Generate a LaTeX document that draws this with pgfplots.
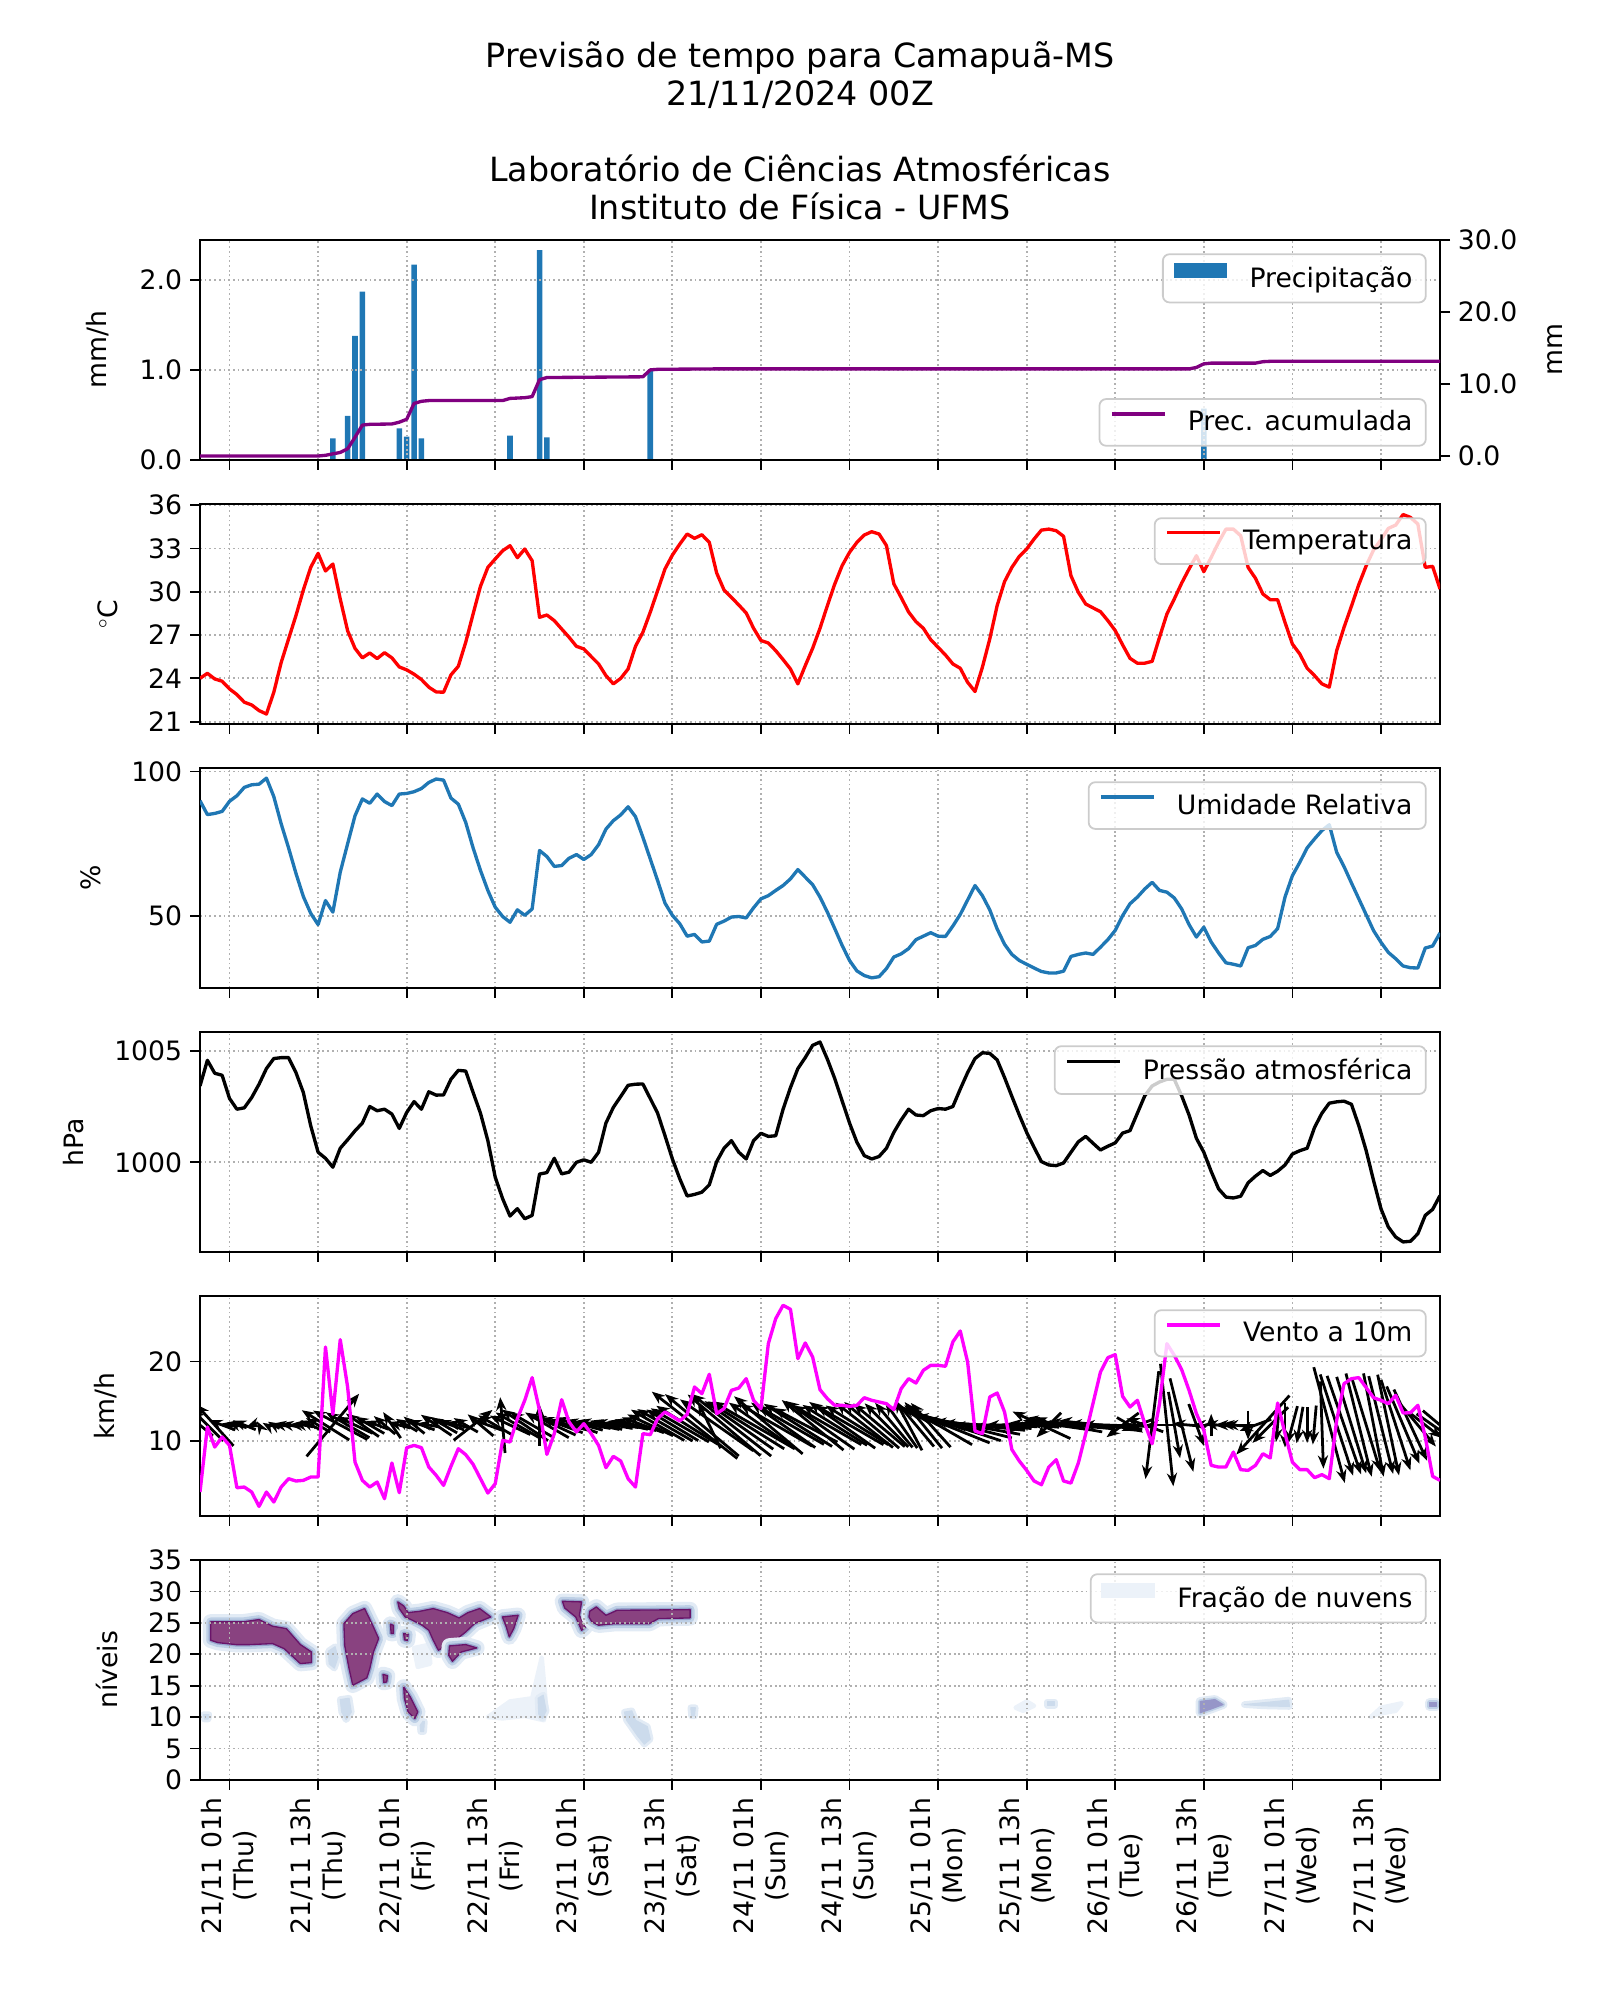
\documentclass[border=0pt]{standalone}
\usepackage{fontspec}
\setmainfont{DejaVu Sans}
\usepackage{pgfplots}
\usepackage{pgfplotstable}
\pgfplotsset{compat=1.18}
\usetikzlibrary{arrows.meta}

\definecolor{c0}{HTML}{1F77B4}
\definecolor{mag}{RGB}{255,0,255}
\definecolor{pred}{RGB}{255,0,0}
\definecolor{gridgray}{HTML}{B0B0B0}
\definecolor{legedge}{HTML}{CCCCCC}
\definecolor{accpurple}{HTML}{800080}
\definecolor{cloudpurple}{RGB}{137,66,128}
\definecolor{cloudedge}{RGB}{105,20,105}
\definecolor{halo1}{RGB}{226,235,245}
\definecolor{halo2}{RGB}{190,208,230}
\definecolor{halo3}{RGB}{150,165,205}
\definecolor{cloudmid}{RGB}{150,150,200}
\definecolor{cloudlight}{RGB}{236,242,249}

\pgfplotsset{
  /pgf/number format/assume math mode=true,
  /pgf/number format/1000 sep={},
  panel/.style={
    scale only axis, width=558pt, height=99pt,
    anchor=north west,
    xmin=0, xmax=168,
    xtick={4,16,28,40,52,64,76,88,100,112,124,136,148,160},
    xticklabels={},
    scaled ticks=false,
    tick align=outside, tick pos=left,
    major tick length=4.5pt,
    every tick/.style={black, line width=0.8pt},
    axis line style={line width=0.8pt, black},
    grid=major,
    major grid style={line width=0.8pt, gridgray, dash pattern=on 0.8pt off 1.32pt},
    tick label style={font=\fontsize{12}{14.4}\selectfont},
    label style={font=\fontsize{12}{14.4}\selectfont},
    ylabel shift=7pt,
    legend cell align=left,
    legend style={
      at={(rel axis cs:1,1)}, anchor=north east, xshift=-6pt, yshift=-6pt,
      draw=legedge, line width=0.8pt, rounded corners=3pt,
      fill=white, fill opacity=0.8, text opacity=1, draw opacity=1,
      inner xsep=4.8pt, inner ysep=4pt,
      nodes={inner sep=1.2pt},
      font=\fontsize{12}{14.4}\selectfont,
    },
  },
  series/.style={line width=1.5pt, line join=round},
}

\newcommand{\linelegend}[1]{\draw[#1, line width=1.5pt, sharp corners, solid] (0pt,3.8pt) -- (24pt,3.8pt); \path[draw=none, fill=none] (0pt,0pt) (33pt,0pt);}
\newcommand{\patchlegend}[1]{\fill[#1, fill opacity=1, sharp corners, draw=none] (0pt,0.5pt) rectangle (24pt,7.1pt); \path[draw=none, fill=none] (0pt,0pt) (33pt,0pt);}

\newcommand{\cloudblob}[1]{%
  \addplot[forget plot, draw=halo1, fill=halo1, line width=7pt, line join=round] table {#1} -- cycle;
  \addplot[forget plot, draw=halo2, fill=halo2, line width=4pt, line join=round] table {#1} -- cycle;
  \addplot[forget plot, draw=halo3, fill=halo3, line width=1.8pt, line join=round] table {#1} -- cycle;
  \addplot[forget plot, draw=cloudedge, fill=cloudpurple, line width=0.6pt, line join=round] table {#1} -- cycle;
}
\newcommand{\cloudfaint}[1]{%
  \addplot[forget plot, draw=halo1, fill=halo1, line width=3pt, line join=round] table {#1} -- cycle;
  \addplot[forget plot, draw=halo2!60!halo1, fill=halo2!60!halo1, line width=0.5pt, line join=round] table {#1} -- cycle;
}
\newcommand{\cloudveryfaint}[1]{%
  \addplot[forget plot, draw=cloudlight, fill=cloudlight, line width=2pt, line join=round] table {#1} -- cycle;
}
\newcommand{\cloudmidblob}[1]{%
  \addplot[forget plot, draw=halo1, fill=halo1, line width=4pt, line join=round] table {#1} -- cycle;
  \addplot[forget plot, draw=halo2, fill=halo2, line width=2pt, line join=round] table {#1} -- cycle;
  \addplot[forget plot, draw=cloudmid, fill=cloudmid, line width=0.5pt, line join=round] table {#1} -- cycle;
}

% ---------------- data ----------------
\pgfplotstableread{
h T
0 24.0
1 24.35
2 23.96
3 23.8
4 23.27
5 22.88
6 22.35
7 22.16
8 21.77
9 21.53
10 23.04
11 25.1
12 26.73
13 28.35
14 30.12
15 31.69
16 32.66
17 31.44
18 31.92
19 29.5
20 27.3
21 26.08
22 25.42
23 25.76
24 25.37
25 25.78
26 25.42
27 24.79
28 24.59
29 24.29
30 23.92
31 23.39
32 23.06
33 23.04
34 24.24
35 24.84
36 26.5
37 28.46
38 30.38
39 31.69
40 32.27
41 32.84
42 33.19
43 32.36
44 32.96
45 32.15
46 28.23
47 28.39
48 28.0
49 27.42
50 26.85
51 26.22
52 26.04
53 25.51
54 25.0
55 24.19
56 23.62
57 24.0
58 24.65
59 26.22
60 27.19
61 28.58
62 30.08
63 31.58
64 32.54
65 33.3
66 34.0
67 33.7
68 33.95
69 33.42
70 31.3
71 30.12
72 29.61
73 29.08
74 28.53
75 27.47
76 26.62
77 26.45
78 25.92
79 25.3
80 24.65
81 23.62
82 24.88
83 26.08
84 27.47
85 29.04
86 30.54
87 31.81
88 32.73
89 33.42
90 33.93
91 34.16
92 34.0
93 33.2
94 30.55
95 29.6
96 28.6
97 27.93
98 27.47
99 26.68
100 26.15
101 25.62
102 25.0
103 24.7
104 23.73
105 23.09
106 24.77
107 26.73
108 29.04
109 30.7
110 31.69
111 32.45
112 32.96
113 33.65
114 34.27
115 34.34
116 34.23
117 33.84
118 31.11
119 29.96
120 29.15
121 28.88
122 28.62
123 28.0
124 27.31
125 26.32
126 25.39
127 25.05
128 25.05
129 25.18
130 26.85
131 28.46
132 29.5
133 30.6
134 31.58
135 32.5
136 31.39
137 32.38
138 33.42
139 34.34
140 34.34
141 33.88
142 31.69
143 30.93
144 29.85
145 29.45
146 29.45
147 27.88
148 26.38
149 25.69
150 24.7
151 24.19
152 23.62
153 23.39
154 25.92
155 27.54
156 29.0
157 30.5
158 31.8
159 32.9
160 33.6
161 34.39
162 34.62
163 35.35
164 35.15
165 34.69
166 31.69
167 31.76
168 30.19
}\tempdata

\pgfplotstableread{
h RH
0 89.9
1 85.1
2 85.5
3 86.2
4 89.7
5 91.6
6 94.5
7 95.4
8 95.6
9 97.7
10 91.3
11 81.9
12 73.6
13 64.8
14 56.8
15 51.0
16 47.1
17 55.4
18 51.4
19 65.2
20 75.0
21 84.7
22 90.5
23 89.0
24 92.2
25 89.6
26 88.2
27 92.2
28 92.4
29 93.0
30 94.1
31 96.2
32 97.4
33 97.0
34 90.8
35 88.7
36 82.4
37 73.6
38 65.8
39 58.9
40 53.1
41 49.9
42 47.9
43 52.2
44 50.3
45 52.5
46 72.7
47 70.6
48 67.2
49 67.5
50 70.0
51 71.3
52 69.6
53 71.3
54 74.7
55 80.1
56 83.0
57 85.0
58 87.8
59 84.4
60 77.3
61 69.8
62 62.3
63 54.5
64 50.3
65 47.4
66 43.1
67 43.7
68 41.1
69 41.4
70 47.2
71 48.3
72 49.7
73 49.9
74 49.4
75 52.9
76 56.0
77 57.1
78 58.9
79 60.6
80 62.9
81 66.1
82 63.5
83 60.9
84 56.6
85 51.4
86 45.7
87 39.9
88 34.7
89 31.1
90 29.5
91 28.7
92 29.1
93 31.9
94 35.9
95 37.0
96 38.8
97 41.9
98 43.1
99 44.3
100 43.1
101 43.0
102 46.6
103 50.6
104 55.6
105 60.6
106 57.1
107 52.2
108 45.6
109 40.3
110 36.8
111 34.7
112 33.4
113 32.1
114 30.9
115 30.4
116 30.4
117 31.0
118 36.1
119 36.8
120 37.3
121 36.8
122 39.3
123 41.9
124 45.1
125 50.2
126 54.3
127 56.6
128 59.4
129 61.7
130 58.9
131 58.3
132 56.3
133 52.5
134 47.1
135 42.8
136 46.2
137 41.1
138 37.3
139 33.9
140 33.4
141 32.8
142 39.1
143 39.9
144 42.0
145 43.0
146 45.7
147 56.6
148 64.0
149 68.6
150 73.6
151 76.7
152 79.6
153 81.6
154 72.1
155 67.1
156 61.5
157 56.0
158 50.5
159 45.0
160 41.0
161 37.5
162 35.3
163 32.8
164 32.2
165 32.1
166 39.0
167 39.7
168 44.2
}\rhdata

\pgfplotstableread{
h P
0 1003.42
1 1004.57
2 1003.99
3 1003.9
4 1002.86
5 1002.38
6 1002.44
7 1002.9
8 1003.5
9 1004.2
10 1004.65
11 1004.69
12 1004.69
13 1004.02
14 1003.13
15 1001.64
16 1000.45
17 1000.18
18 999.78
19 1000.63
20 1001.01
21 1001.41
22 1001.76
23 1002.5
24 1002.31
25 1002.38
26 1002.16
27 1001.52
28 1002.23
29 1002.72
30 1002.38
31 1003.16
32 1003.01
33 1003.02
34 1003.72
35 1004.12
36 1004.09
37 1003.13
38 1002.2
39 1000.97
40 999.33
41 998.37
42 997.59
43 997.92
44 997.47
45 997.62
46 999.47
47 999.54
48 1000.18
49 999.48
50 999.56
51 1000.0
52 1000.11
53 1000.0
54 1000.45
55 1001.76
56 1002.46
57 1002.95
58 1003.45
59 1003.5
60 1003.51
61 1002.86
62 1002.2
63 1001.19
64 1000.15
65 999.26
66 998.49
67 998.56
68 998.66
69 998.99
70 1000.03
71 1000.63
72 1000.97
73 1000.45
74 1000.15
75 1000.97
76 1001.3
77 1001.16
78 1001.19
79 1002.38
80 1003.35
81 1004.2
82 1004.69
83 1005.24
84 1005.39
85 1004.62
86 1003.75
87 1002.75
88 1001.76
89 1000.9
90 1000.3
91 1000.15
92 1000.26
93 1000.63
94 1001.34
95 1001.9
96 1002.38
97 1002.12
98 1002.09
99 1002.31
100 1002.41
101 1002.38
102 1002.5
103 1003.28
104 1004.02
105 1004.65
106 1004.91
107 1004.88
108 1004.59
109 1003.8
110 1002.95
111 1002.12
112 1001.34
113 1000.67
114 1000.03
115 999.88
116 999.85
117 999.97
118 1000.45
119 1000.92
120 1001.16
121 1000.85
122 1000.55
123 1000.72
124 1000.87
125 1001.31
126 1001.42
127 1002.2
128 1002.98
129 1003.42
130 1003.6
131 1003.72
132 1003.72
133 1002.98
134 1002.12
135 1001.07
136 1000.45
137 999.59
138 998.81
139 998.44
140 998.4
141 998.48
142 999.08
143 999.38
144 999.63
145 999.41
146 999.6
147 999.88
148 1000.37
149 1000.52
150 1000.63
151 1001.56
152 1002.2
153 1002.65
154 1002.71
155 1002.74
156 1002.6
157 1001.64
158 1000.52
159 999.18
160 997.92
161 997.1
162 996.65
163 996.43
164 996.46
165 996.8
166 997.62
167 997.89
168 998.51
}\presdata

\pgfplotstableread{
h V
0 3.56
1 11.75
2 9.23
3 10.5
4 9.44
5 4.1
6 4.19
7 3.56
8 1.75
9 3.56
10 2.3
11 4.19
12 5.24
13 4.95
14 5.03
15 5.45
16 5.45
17 21.84
18 13.35
19 22.77
20 16.8
21 7.34
22 5.03
23 4.19
24 4.82
25 2.72
26 7.22
27 3.48
28 9.15
29 9.44
30 9.15
31 6.71
32 5.66
33 4.4
34 6.8
35 9.02
36 8.27
37 7.05
38 5.24
39 3.43
40 4.61
41 10.07
42 9.86
43 12.81
44 15.12
45 17.98
46 13.86
47 8.31
48 10.92
49 15.2
50 12.39
51 11.13
52 12.18
53 10.92
54 9.44
55 6.63
56 8.06
57 7.47
58 5.24
59 4.19
60 10.92
61 10.79
62 12.81
63 13.65
64 13.1
65 12.51
66 13.35
67 16.8
68 15.96
69 18.4
70 13.44
71 14.07
72 16.38
73 16.67
74 17.85
75 15.12
76 14.07
77 22.26
78 25.42
79 27.1
80 26.59
81 20.37
82 22.35
83 20.58
84 16.46
85 15.33
86 14.49
87 14.49
88 14.36
89 14.49
90 15.45
91 15.12
92 14.91
93 14.7
94 13.94
95 16.59
96 17.85
97 17.3
98 18.9
99 19.53
100 19.53
101 19.41
102 22.48
103 23.86
104 19.95
105 11.25
106 10.92
107 15.54
108 16.04
109 13.65
110 8.9
111 7.47
112 6.29
113 4.95
114 4.48
115 6.71
116 7.64
117 4.95
118 4.69
119 7.22
120 10.92
121 14.78
122 18.69
123 20.5
124 20.88
125 15.62
126 14.28
127 15.12
128 12.18
129 9.65
130 14.7
131 22.26
132 20.79
133 18.99
134 16.38
135 13.44
136 11.34
137 6.92
138 6.71
139 6.71
140 8.6
141 6.38
142 6.29
143 6.92
144 8.39
145 7.85
146 14.78
147 10.92
148 7.34
149 6.38
150 6.38
151 5.37
152 5.75
153 5.24
154 12.6
155 17.22
156 17.85
157 17.98
158 16.72
159 15.45
160 15.12
161 14.7
162 15.75
163 13.52
164 13.56
165 14.49
166 10.5
167 5.54
168 5.03
}\winddata

% wind arrows: h, direction angle on the page (deg), length (px of the reference)
\pgfplotstableread{
h a L
0 140 30
1 135 40
2 132 50
3 160 25
4 170 15
5 165 18
6 158 22
7 200 10
8 120 8
9 150 8
10 150 12
11 170 15
12 170 15
13 175 12
14 170 18
15 155 20
16 150 25
17 148 50
18 50 73
19 152 55
20 150 45
21 155 35
22 145 36
23 150 30
24 160 22
25 140 25
26 124 28
27 165 20
28 150 22
29 141 24
30 160 25
31 170 20
32 146 33
33 150 28
34 160 25
35 165 22
36 150 25
37 38 44
38 140 30
39 160 28
40 150 35
41 95 50
42 155 40
43 150 45
44 146 50
45 150 45
46 90 37
47 150 45
48 155 42
49 160 40
50 165 38
51 160 40
52 165 35
53 170 35
54 168 38
55 165 30
56 170 35
57 172 32
58 168 36
59 165 38
60 160 40
61 155 45
62 150 55
63 150 57
64 149 54
65 150 60
66 148 65
67 142 97
68 140 86
69 116 46
70 145 80
71 140 85
72 142 90
73 145 75
74 148 80
75 150 85
76 145 70
77 140 80
78 150 75
79 145 70
80 150 69
81 148 72
82 152 65
83 141 71
84 145 75
85 150 70
86 148 68
87 145 72
88 150 70
89 148 66
90 142 65
91 140 64
92 140 60
93 135 55
94 130 52
95 125 50
96 118 51
97 130 50
98 129 53
99 132 53
100 150 70
101 158 85
102 162 90
103 166 95
104 170 95
105 174 90
106 176 88
107 178 85
108 182 80
109 185 75
110 183 70
111 180 60
112 20 40
113 175 45
114 155 57
115 225 31
116 172 60
117 170 70
118 175 80
119 178 90
120 180 85
121 176 80
122 174 75
123 178 70
124 180 60
125 217 36
126 -30 27
127 200 30
128 160 35
129 -97 97
130 180 25
131 -84 110
132 -80 60
133 -76 86
134 175 30
135 -70 40
136 180 20
137 90 20
138 175 25
139 180 20
140 175 22
141 180 28
142 -90 26
143 200 30
144 228 71
145 225 45
146 -95 30
147 -90 40
148 -105 35
149 -100 33
150 -90 32
151 -95 35
152 -88 78
153 -75 107
154 -72 95
155 -71 93
156 -73 90
157 -76 95
158 -73 87
159 -79 94
160 -76 90
161 -78 92
162 -72 85
163 -67 75
164 -65 70
165 -50 50
166 -38 37
167 -35 35
168 -40 40
}\windarrows

% cloud fraction contours (hour, model level)
\pgfplotstableread{
h L
1.45 25.15
5.8 25.15
8.0 25.52
9.85 24.46
11.7 24.08
13.6 21.54
15.1 20.37
15.1 18.68
13.6 18.52
11.4 20.9
9.85 21.7
6.7 21.54
4.9 21.54
2.4 21.86
1.45 22.23
}\blobA
\pgfplotstableread{
h L
22.3 27.27
23.4 24.6
24.2 22.5
23.5 20.37
23.0 17.7
22.6 16.24
20.7 15.07
20.2 17.7
19.6 21.43
19.5 24.88
20.7 26.47
}\blobB
\pgfplotstableread{
h L
27.6 14.8
28.5 13.2
29.5 10.83
29.1 9.77
28.2 10.83
27.7 12.95
}\blobC
\pgfplotstableread{
h L
24.8 16.8
25.4 16.6
25.3 15.6
24.9 15.5
}\dotA
\pgfplotstableread{
h L
25.8 24.8
26.2 24.6
26.2 23.3
25.9 23.3
}\dotB
\pgfplotstableread{
h L
27.6 23.3
28.2 23.2
28.1 22.2
27.7 22.3
}\dotC
\pgfplotstableread{
h L
26.8 28.33
27.6 27.69
28.2 26.63
29.8 26.84
31.6 27.27
33.5 26.63
35.1 25.78
36.3 26.63
37.9 27.27
39.4 25.94
37.2 24.88
36.0 23.55
34.4 22.07
32.3 20.64
31.6 22.23
31.0 23.82
30.1 24.62
28.8 25.41
27.8 25.94
27.0 27.27
}\blobD
\pgfplotstableread{
h L
33.8 21.33
36.0 21.54
37.5 21.01
35.4 20.37
34.2 18.89
33.7 19.84
}\blobDD
\pgfplotstableread{
h L
40.97 25.94
43.1 26.2
42.5 24.08
41.9 22.76
41.5 24.35
}\blobG
\pgfplotstableread{
h L
49.1 28.43
51.7 28.33
51.4 26.2
52.2 24.35
51.7 23.82
50.9 25.94
49.4 27.37
}\blobE
\pgfplotstableread{
h L
52.8 26.84
53.7 27.53
55.0 26.2
56.5 27.0
66.4 27.1
66.4 25.78
62.1 25.68
60.9 24.88
56.2 24.88
54.0 24.62
53.1 25.15
52.7 25.94
}\blobF
\pgfplotstableread{
h L
17.4 20.5
18.3 21.2
18.7 19.5
18.2 17.8
17.5 18.5
}\lpA
\pgfplotstableread{
h L
19.0 12.8
20.2 13.0
20.5 10.8
19.8 9.6
19.2 10.8
}\lpB
\pgfplotstableread{
h L
39 10
42 12.5
45 13
46.3 19.5
46.8 13
46.6 9.5
44 10.2
41 9.8
}\lpC
\pgfplotstableread{
h L
45.8 13
46.5 13.5
46.9 11
46.4 9.8
45.9 10.5
}\lpCC
\pgfplotstableread{
h L
57.5 10.8
58.5 11
59 9.5
60.6 8.5
61 6.5
60.2 5.7
59.3 7
57.8 9.5
}\lpD
\pgfplotstableread{
h L
66.5 11.5
67.1 11.5
67.0 10.2
66.6 10.2
}\lpE
\pgfplotstableread{
h L
29.0 21
31 21.5
31.2 18.5
29.5 18
}\lpF
\pgfplotstableread{
h L
29.8 9.3
30.4 9.3
30.3 7.7
29.9 7.7
}\lpG
\pgfplotstableread{
h L
0.5 10.4
1.2 10.4
1.1 9.7
0.6 9.7
}\lpH
\pgfplotstableread{
h L
110.5 11.5
112 12.5
113 11.8
111.5 11
}\lpI
\pgfplotstableread{
h L
114.8 12.4
115.8 12.4
115.8 11.9
114.8 11.9
}\lpJ
\pgfplotstableread{
h L
135.5 12.5
137.5 12.8
138.6 12
137 11.3
135.5 10.7
}\lpK
\pgfplotstableread{
h L
141.5 12
145 12.4
147.5 12.7
147.6 11.7
144 11.8
}\lpL
\pgfplotstableread{
h L
158.6 10
160 11.5
162.8 12.2
162 11
159.5 10.5
}\lpM
\pgfplotstableread{
h L
166.6 12.3
167.5 12.3
167.5 11.7
166.6 11.7
}\lpN

\begin{document}
\begin{tikzpicture}
\path[use as bounding box] (0,0) rectangle (720pt,900pt);

\node[font=\fontsize{15}{18}\selectfont, anchor=base] at (360pt,869.4pt) {Previsão de tempo para Camapuã-MS};
\node[font=\fontsize{15}{18}\selectfont, anchor=base] at (360pt,852.7pt) {21/11/2024 00Z};
\node[font=\fontsize{15}{18}\selectfont, anchor=base] at (360pt,818.1pt) {Laboratório de Ciências Atmosféricas};
\node[font=\fontsize{15}{18}\selectfont, anchor=base] at (360pt,801pt) {Instituto de Física - UFMS};

% ---- Panel 1: precipitation ----
\begin{axis}[panel, at={(90pt,792pt)}, axis on top,
  ymin=0, ymax=2.444, ytick={0,1,2},
  yticklabel style={/pgf/number format/fixed, /pgf/number format/fixed zerofill, /pgf/number format/precision=1},
  ylabel={mm/h}]
\addplot[ybar, bar width=0.75, fill=c0, draw=none,
  legend image code/.code={\patchlegend{c0}}]
  coordinates {(18,0.24) (20,0.49) (21,1.38) (22,1.87) (27,0.35) (28,0.26) (29,2.17) (30,0.24) (42,0.27) (46,2.33) (47,0.25) (61,0.99) (136,0.57)};
\addlegendentry{Precipitação}
\end{axis}
\begin{axis}[scale only axis, width=558pt, height=99pt, anchor=north west, at={(90pt,792pt)},
  xmin=0, xmax=168, axis x line=none, axis y line*=right,
  ymin=-0.55, ymax=30, ytick={0,10,20,30}, scaled ticks=false,
  yticklabel style={/pgf/number format/fixed, /pgf/number format/fixed zerofill, /pgf/number format/precision=1},
  tick align=outside, major tick length=4.5pt,
  every tick/.style={black, line width=0.8pt},
  axis line style={line width=0.8pt, black},
  tick label style={font=\fontsize{12}{14.4}\selectfont},
  label style={font=\fontsize{12}{14.4}\selectfont},
  ylabel={mm}, ylabel shift=7pt,
  legend cell align=left,
  legend style={
      at={(rel axis cs:1,0)}, anchor=south east, xshift=-6pt, yshift=6pt,
      draw=legedge, line width=0.8pt, rounded corners=3pt,
      fill=white, fill opacity=0.8, text opacity=1, draw opacity=1,
      inner xsep=4.8pt, inner ysep=4pt,
      nodes={inner sep=1.2pt},
      font=\fontsize{12}{14.4}\selectfont},
  ]
\addplot[series, accpurple, legend image code/.code={\linelegend{accpurple}}]
  coordinates {(0,0) (15,0) (16,0.0) (17,0.1) (18,0.3) (19,0.5) (20,1.0) (21,2.6) (22,4.3) (23,4.4) (26,4.45) (27,4.7) (28,5.1) (29,7.3) (30,7.6) (31,7.7) (41,7.7) (42,8.0) (44,8.1) (45,8.25) (46,10.6) (47,10.9) (60,11.0) (61,11.96) (62,12.04) (70,12.1) (134,12.1) (135,12.3) (136,12.8) (137,12.9) (143,12.9) (144,13.1) (145,13.15) (168,13.15)};
\addlegendentry{Prec. acumulada}
\end{axis}

% ---- Panel 2: temperature ----
\begin{axis}[panel, at={(90pt,673.2pt)},
  ymin=20.84, ymax=36.08, ytick={21,24,27,30,33,36},
  ylabel={$^\circ$C}]
\addplot[series, pred, legend image code/.code={\linelegend{pred}}]
  table[x=h, y=T] {\tempdata};
\addlegendentry{Temperatura}
\end{axis}

% ---- Panel 3: relative humidity ----
\begin{axis}[panel, at={(90pt,554.4pt)},
  ymin=25.2, ymax=101.2, ytick={50,100},
  ylabel={\%}]
\addplot[series, c0, legend image code/.code={\linelegend{c0}}]
  table[x=h, y=RH] {\rhdata};
\addlegendentry{Umidade Relativa}
\end{axis}

% ---- Panel 4: pressure ----
\begin{axis}[panel, at={(90pt,435.6pt)},
  ymin=995.98, ymax=1005.84, ytick={1000,1005},
  ylabel={hPa}]
\addplot[series, black, legend image code/.code={\linelegend{black}}]
  table[x=h, y=P] {\presdata};
\addlegendentry{Pressão atmosférica}
\end{axis}

% ---- Panel 5: wind ----
\begin{axis}[panel, at={(90pt,316.8pt)},
  ymin=0.54, ymax=28.27, ytick={10,20},
  ylabel={km/h}]
\addplot[forget plot, black, line width=1.25pt, -{Stealth[length=6pt,width=4.6pt]},
  quiver={u={1.12*\thisrow{L}*cos(\thisrow{a})/7.381}, v={1.12*\thisrow{L}*sin(\thisrow{a})/7.934}}]
  table[x expr={\thisrow{h}-0.56*\thisrow{L}*cos(\thisrow{a})/7.381}, y expr={12-0.56*\thisrow{L}*sin(\thisrow{a})/7.934}] {\windarrows};
\addplot[series, mag, legend image code/.code={\linelegend{mag}}]
  table[x=h, y=V] {\winddata};
\addlegendentry{Vento a 10m}
\end{axis}

% ---- Panel 6: cloud fraction ----
\begin{axis}[panel, at={(90pt,198pt)}, axis on top,
  ymin=0, ymax=35, ytick={0,5,10,15,20,25,30,35},
  ylabel={níveis},
  xticklabels={{21/11 01h\\(Thu)},{21/11 13h\\(Thu)},{22/11 01h\\(Fri)},{22/11 13h\\(Fri)},{23/11 01h\\(Sat)},{23/11 13h\\(Sat)},{24/11 01h\\(Sun)},{24/11 13h\\(Sun)},{25/11 01h\\(Mon)},{25/11 13h\\(Mon)},{26/11 01h\\(Tue)},{26/11 13h\\(Tue)},{27/11 01h\\(Wed)},{27/11 13h\\(Wed)}},
  xticklabel style={rotate=90, anchor=east, align=center, font=\fontsize{12}{14.4}\selectfont}]
\cloudfaint{\lpA}
\cloudfaint{\lpB}
\cloudveryfaint{\lpC}
\cloudfaint{\lpCC}
\cloudfaint{\lpD}
\cloudfaint{\lpE}
\cloudveryfaint{\lpF}
\cloudfaint{\lpG}
\cloudfaint{\lpH}
\cloudveryfaint{\lpI}
\cloudfaint{\lpJ}
\cloudfaint{\lpL}
\cloudveryfaint{\lpM}
\cloudmidblob{\lpK}
\cloudmidblob{\lpN}
\cloudblob{\blobA}
\cloudblob{\blobB}
\cloudblob{\blobC}
\cloudblob{\dotA}
\cloudblob{\dotB}
\cloudblob{\dotC}
\cloudblob{\blobD}
\cloudblob{\blobDD}
\cloudblob{\blobG}
\cloudblob{\blobE}
\cloudblob{\blobF}
\addlegendimage{legend image code/.code={\patchlegend{cloudlight}}}
\addlegendentry{Fração de nuvens}
\end{axis}
\end{tikzpicture}
\end{document}
